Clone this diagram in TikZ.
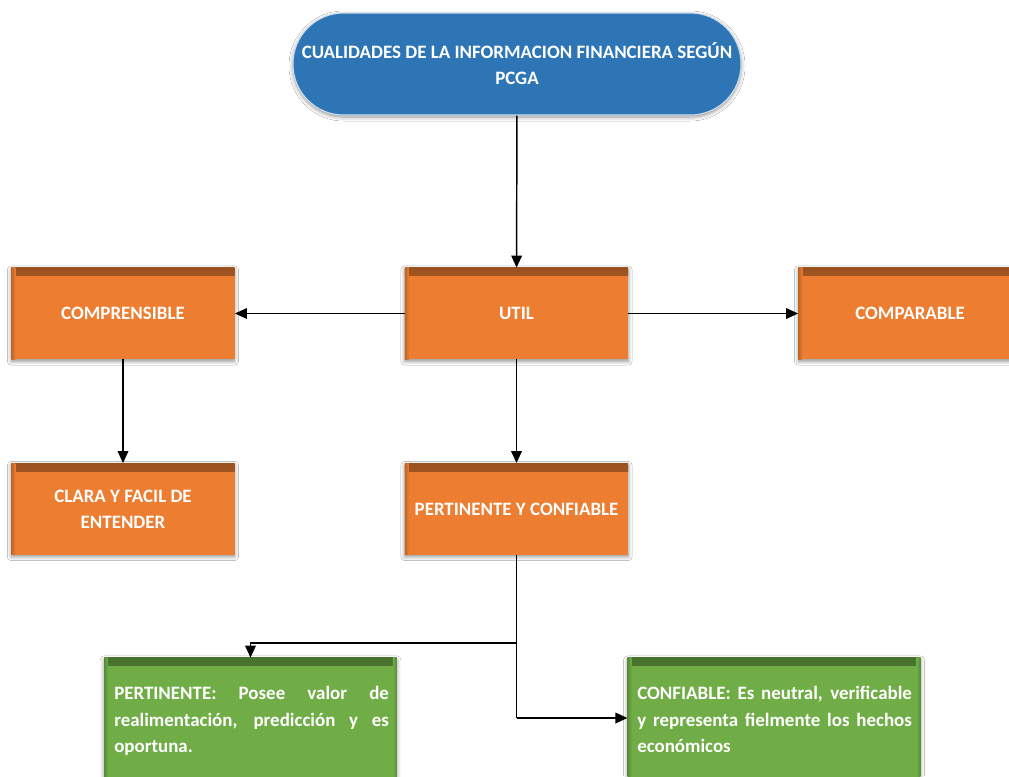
\documentclass[tikz,border=0pt]{standalone}
\usepackage{fontspec}
\setmainfont{Carlito}
\usetikzlibrary{arrows.meta,shadows.blur}
\definecolor{cblue}{HTML}{2E75B6}
\definecolor{corange}{HTML}{ED7D31}
\definecolor{cgreen}{HTML}{70AD47}
\newcommand\nohyphenation{\hyphenpenalty=10000\relax\exhyphenpenalty=10000\relax}
\tikzset{
  boxshadow/.style={blur shadow={shadow xshift=0pt,shadow yshift=-1.5pt,shadow blur radius=3pt,shadow opacity=45}},
  orangebox/.style={rectangle, fill=corange, text=white, font=\fontsize{14.2}{16}\selectfont\bfseries,
    minimum width=167.5pt, minimum height=68.5pt, inner sep=0pt, boxshadow,
    path picture={\shade[top color=corange!65!black, bottom color=corange]
      (path picture bounding box.north west) rectangle ([yshift=-6pt]path picture bounding box.north east);
      \shade[left color=corange!80!black, right color=corange]
      (path picture bounding box.north west) rectangle ([xshift=3pt]path picture bounding box.south west);}},
  greenbox/.style={rectangle, fill=cgreen, minimum width=219.5pt, minimum height=112pt, inner sep=0pt, boxshadow,
    path picture={\shade[top color=cgreen!65!black, bottom color=cgreen]
      (path picture bounding box.north west) rectangle ([yshift=-6pt]path picture bounding box.north east);
      \shade[left color=cgreen!80!black, right color=cgreen]
      (path picture bounding box.north west) rectangle ([xshift=3pt]path picture bounding box.south west);
      \shade[right color=cgreen!80!black, left color=cgreen]
      (path picture bounding box.north east) rectangle ([xshift=-3pt]path picture bounding box.south east);}},
  greentext/.style={anchor=north west, text=white, font={\fontsize{14.2}{20}\selectfont\bfseries\nohyphenation},
    text width=206pt, align=justify, inner sep=0pt},
  conn/.style={line width=1.1pt, -{Triangle[length=9pt,width=8pt]}},
  connplain/.style={line width=1.1pt}
}
\begin{document}
\begin{tikzpicture}[x=0.75pt,y=-0.75pt]
\clip (0,0) rectangle (1009,776);
\fill[white] (0,0) rectangle (1009,776);
\node[rectangle, rounded corners=38pt, fill=cblue, draw=white!75!cblue, line width=0.8pt, text=white,
  font=\fontsize{14.2}{19.5}\selectfont\bfseries, align=center,
  minimum width=336pt, minimum height=76.5pt, inner sep=0pt, boxshadow] (top) at (517,64)
  {CUALIDADES DE LA INFORMACION FINANCIERA SEGÚN\\PCGA};
\node[orangebox] (util) at (516.5,313.5) {UTIL};
\node[orangebox] (compr) at (123,313.5) {COMPRENSIBLE};
\node[orangebox] (compa) at (910,313.5) {COMPARABLE};
\node[orangebox] (clara) at (123,509) [align=center, font=\fontsize{14.2}{19.5}\selectfont\bfseries] {CLARA Y FACIL DE\\ENTENDER};
\node[orangebox] (pyc) at (516.5,509) {PERTINENTE Y CONFIABLE};
\node[greenbox] (pert) at (250.5,732.5) {};
\node[greenbox] (conf) at (774,732.5) {};
\node[greentext] (pertt) at (114,686) {PERTINENTE: Posee valor de realimentación, predicción y es oportuna.};
\node[greentext] (conft) at (637,686) {CONFIABLE: Es neutral, verificable y representa fielmente los hechos económicos};
\coordinate (j1) at (516.5,643);
\coordinate (j2) at (516.5,718);
\draw[conn] (top) -- (util);
\draw[conn] (util) -- (compr);
\draw[conn] (util) -- (compa);
\draw[conn] (compr) -- (clara);
\draw[conn] (util) -- (pyc);
\draw[connplain] (pyc.south) -- (j2);
\draw[conn] (j1) -| (pert.north);
\draw[conn] (j2) -- (conf.west |- j2);
\end{tikzpicture}
\end{document}
